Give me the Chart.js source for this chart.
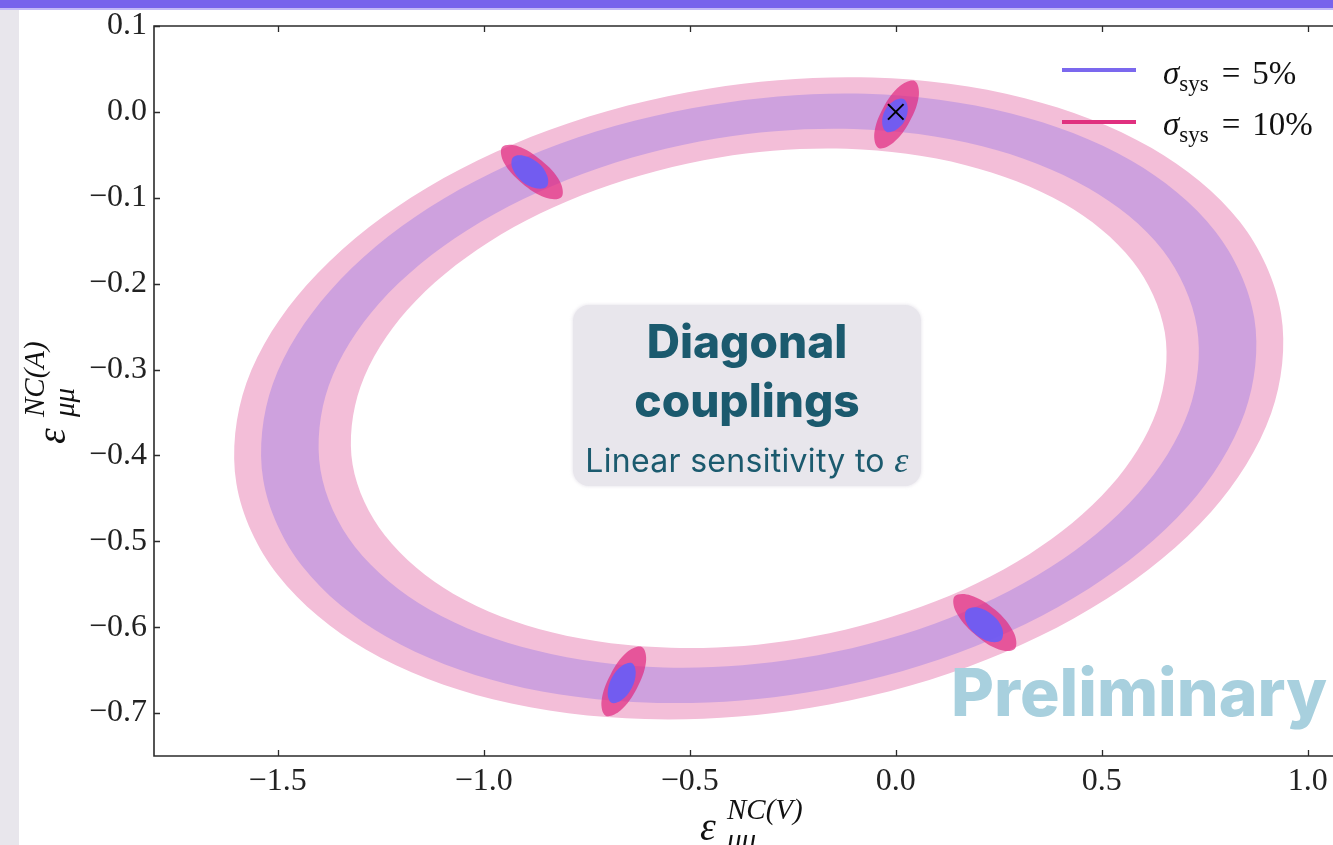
<!DOCTYPE html>
<html lang="en">
<head>
<meta charset="UTF-8">
<title>Diagonal couplings</title>
<script src="https://cdn.jsdelivr.net/npm/chart.js@4"></script>
<style>
    html, body { margin: 0; padding: 0; background: #fff; overflow: hidden; }
    #wrap { position: relative; width: 1333px; height: 845px; }
    #topbar { position: absolute; left: 0; top: 0; width: 1333px; height: 8px; background: #7764ec; border-bottom: 2px solid #c3bbf6; }
    #strip { position: absolute; left: 0; top: 10px; width: 19px; height: 835px; background: #e8e6ec; }
    canvas { position: absolute; left: 0; top: 0; }
    .serif { font-family: 'Liberation Serif', 'DejaVu Serif', serif; color: #111; }
    .legline { position: absolute; left: 1062px; width: 74px; height: 4px; }
    .legtxt { position: absolute; left: 1163px; font-size: 33px; line-height: 33px; white-space: nowrap; }
    .legtxt i { font-style: italic; }
    .legtxt sub { font-size: 23px; vertical-align: -7px; line-height: 0; }
    .legtxt .eq { margin: 0 12px 0 13px; }
    .ttl { position: absolute; width: 120px; height: 60px; }
    .ttl .eps { position: absolute; left: 0; top: 12px; font-size: 40px; line-height: 40px; font-style: italic; }
    .ttl .sup { position: absolute; left: 27px; top: 0; font-size: 29px; line-height: 29px; font-style: italic; white-space: nowrap; }
    .ttl .sub { position: absolute; left: 27px; top: 30px; font-size: 29px; line-height: 29px; font-style: italic; white-space: nowrap; }
    #box { position: absolute; left: 573px; top: 305px; width: 348px; height: 181px; background: #e8e6ec; border-radius: 16px; box-shadow: 0 0 3px 1px rgba(232, 230, 236, 0.8); color: #1b5a6e; text-align: center; font-family: Inter, 'Noto Sans', sans-serif; }
    #box .big { position: absolute; left: 0; width: 348px; top: 7px; font-size: 46px; line-height: 59px; font-weight: 800; }
    #box .small { position: absolute; left: 0; width: 348px; top: 137px; font-size: 32px; line-height: 36px; font-weight: 400; letter-spacing: 0.3px; white-space: nowrap; }
    #box .small i { font-family: 'Liberation Serif', serif; font-size: 36px; }
    #prelim { position: absolute; left: 951px; top: 652px; font-family: Inter, Roboto, sans-serif; font-weight: 800; font-size: 66px; line-height: 80px; color: #a8d0de; white-space: nowrap; }
</style>
</head>
<body>
<div id="wrap">
    <div id="topbar"></div>
    <div id="strip"></div>
    <canvas id="chart" width="1333" height="845"></canvas>

    <div class="legline" style="top:68px; background:#7b68ee;"></div>
    <div class="legtxt serif" style="top:57px;"><i>σ</i><sub>sys</sub><span class="eq">=</span>5%</div>
    <div class="legline" style="top:120px; background:#e0307f;"></div>
    <div class="legtxt serif" style="top:108px;"><i>σ</i><sub>sys</sub><span class="eq">=</span>10%</div>

    <div class="ttl serif" style="left:700px; top:795px;">
        <span class="eps">ε</span><span class="sup">NC(V)</span><span class="sub">μμ</span>
    </div>
    <div class="ttl serif" style="left:20px; top:444px; transform: rotate(-90deg); transform-origin: 0 0;">
        <span class="eps">ε</span><span class="sup">NC(A)</span><span class="sub">μμ</span>
    </div>

    <div id="box">
        <div class="big">Diagonal<br>couplings</div>
        <div class="small">Linear sensitivity to <i>ε</i></div>
    </div>
    <div id="prelim">Preliminary</div>
</div>
<script>
    // axis ticks
    const xTicks = [-1.5, -1.0, -0.5, 0.0, 0.5, 1.0];
    const yTicks = [0.1, 0.0, -0.1, -0.2, -0.3, -0.4, -0.5, -0.6, -0.7];

    // allowed bands (closed contours)
    const band10Outer = [[-0.210,-0.694],[-0.608,-0.707],[-0.978,-0.684],[-1.286,-0.626],[-1.500,-0.539],[-1.600,-0.433],[-1.576,-0.316],[-1.430,-0.202],[-1.177,-0.100],[-0.841,-0.021],[-0.455,0.027],[-0.057,0.040],[0.313,0.016],[0.621,-0.042],[0.835,-0.128],[0.935,-0.235],[0.911,-0.351],[0.765,-0.466],[0.512,-0.567],[0.176,-0.646],[-0.210,-0.694]];
    const band5Outer = [[-0.216,-0.676],[-0.593,-0.688],[-0.945,-0.666],[-1.237,-0.611],[-1.440,-0.529],[-1.535,-0.428],[-1.512,-0.317],[-1.374,-0.209],[-1.134,-0.112],[-0.815,-0.037],[-0.449,0.008],[-0.072,0.021],[0.280,-0.002],[0.572,-0.057],[0.775,-0.139],[0.870,-0.240],[0.847,-0.350],[0.709,-0.459],[0.469,-0.555],[0.150,-0.630],[-0.216,-0.676]];
    const band5Inner = [[-0.230,-0.636],[-0.563,-0.647],[-0.875,-0.627],[-1.133,-0.579],[-1.313,-0.506],[-1.396,-0.417],[-1.376,-0.319],[-1.254,-0.223],[-1.041,-0.138],[-0.759,-0.072],[-0.435,-0.031],[-0.102,-0.020],[0.210,-0.040],[0.468,-0.089],[0.648,-0.161],[0.731,-0.251],[0.711,-0.348],[0.589,-0.444],[0.376,-0.530],[0.094,-0.596],[-0.230,-0.636]];
    const band10Inner = [[-0.237,-0.614],[-0.546,-0.624],[-0.835,-0.606],[-1.074,-0.561],[-1.240,-0.493],[-1.318,-0.411],[-1.299,-0.320],[-1.186,-0.231],[-0.989,-0.152],[-0.728,-0.091],[-0.428,-0.053],[-0.119,-0.043],[0.170,-0.062],[0.409,-0.107],[0.575,-0.174],[0.653,-0.257],[0.634,-0.347],[0.521,-0.436],[0.324,-0.515],[0.063,-0.576],[-0.237,-0.614]];

    // small islands with linear sensitivity
    const island10A = [[0.046,0.036],[0.056,0.019],[0.034,-0.011],[-0.006,-0.036],[-0.042,-0.042],[-0.052,-0.025],[-0.030,0.005],[0.010,0.030],[0.046,0.036]];
    const island5A = [[0.019,0.015],[0.029,0.005],[0.022,-0.010],[0.000,-0.021],[-0.023,-0.023],[-0.033,-0.013],[-0.026,0.002],[-0.004,0.013],[0.019,0.015]];
    const island10B = [[-0.811,-0.099],[-0.849,-0.100],[-0.907,-0.083],[-0.951,-0.059],[-0.955,-0.041],[-0.917,-0.040],[-0.859,-0.057],[-0.815,-0.081],[-0.811,-0.099]];
    const island5B = [[-0.847,-0.087],[-0.873,-0.089],[-0.907,-0.081],[-0.930,-0.066],[-0.929,-0.053],[-0.903,-0.051],[-0.869,-0.059],[-0.846,-0.074],[-0.847,-0.087]];
    const island10C = [[-0.616,-0.623],[-0.606,-0.640],[-0.628,-0.671],[-0.668,-0.697],[-0.704,-0.703],[-0.714,-0.686],[-0.692,-0.655],[-0.652,-0.629],[-0.616,-0.623]];
    const island5C = [[-0.640,-0.642],[-0.631,-0.653],[-0.641,-0.671],[-0.666,-0.685],[-0.690,-0.688],[-0.699,-0.677],[-0.689,-0.659],[-0.664,-0.645],[-0.640,-0.642]];
    const island10D = [[0.289,-0.625],[0.250,-0.626],[0.191,-0.608],[0.146,-0.582],[0.143,-0.564],[0.182,-0.563],[0.242,-0.580],[0.286,-0.606],[0.289,-0.625]];
    const island5D = [[0.256,-0.615],[0.229,-0.617],[0.193,-0.608],[0.170,-0.593],[0.172,-0.580],[0.199,-0.577],[0.235,-0.586],[0.258,-0.601],[0.256,-0.615]];

    const truePoint = [[0, 0]];

    const pink = '#f3bed8';
    const purple = '#cea1de';
    const pinkIsland = 'rgba(224, 40, 128, 0.7)';
    const blueIsland = 'rgba(95, 95, 255, 0.85)';

    const fmt = v => (v < 0 ? '\u2212' : '') + Math.abs(v).toFixed(1);

    // closed contour filled as a shape; the path runs two points past its start
    // so the spline has no corner where it closes
    function shape(pts, color, order, tension) {
        const path = pts.concat(pts.slice(1, 3));
        return {
            type: 'line',
            data: path.map(p => ({x: p[0], y: p[1]})),
            backgroundColor: color,
            borderColor: 'rgba(0,0,0,0)',
            borderWidth: 0,
            pointRadius: 0,
            fill: 'shape',
            tension: tension,
            order: order
        };
    }

    const datasets = [
        shape(band10Outer, pink, 20, 0.335),
        shape(band5Outer, purple, 19, 0.335),
        shape(band5Inner, pink, 18, 0.335),
        shape(band10Inner, '#ffffff', 17, 0.335),
        shape(island10A, pinkIsland, 10, 0.37),
        shape(island10B, pinkIsland, 10, 0.37),
        shape(island10C, pinkIsland, 10, 0.37),
        shape(island10D, pinkIsland, 10, 0.37),
        shape(island5A, blueIsland, 9, 0.37),
        shape(island5B, blueIsland, 9, 0.37),
        shape(island5C, blueIsland, 9, 0.37),
        shape(island5D, blueIsland, 9, 0.37),
        {
            type: 'scatter',
            data: truePoint.map(p => ({x: p[0], y: p[1]})),
            pointStyle: 'crossRot',
            pointRadius: 11,
            borderColor: '#000',
            borderWidth: 2,
            order: 1
        }
    ];

    // spines and inward tick marks, matplotlib style
    const frame = {
        id: 'frame',
        afterDraw(chart) {
            const {ctx, chartArea: a, scales: {x, y}} = chart;
            ctx.save();
            ctx.strokeStyle = '#2b2b2b';
            ctx.lineWidth = 1.6;
            ctx.beginPath();
            ctx.moveTo(a.right + 2, a.top);
            ctx.lineTo(a.left, a.top);
            ctx.lineTo(a.left, a.bottom);
            ctx.lineTo(a.right + 2, a.bottom);
            ctx.stroke();
            ctx.lineWidth = 1.3;
            ctx.beginPath();
            xTicks.forEach(v => {
                const px = Math.round(x.getPixelForValue(v)) + 0.5;
                ctx.moveTo(px, a.bottom); ctx.lineTo(px, a.bottom - 6);
                ctx.moveTo(px, a.top); ctx.lineTo(px, a.top + 6);
            });
            yTicks.forEach(v => {
                const py = Math.round(y.getPixelForValue(v)) + 0.5;
                ctx.moveTo(a.left, py); ctx.lineTo(a.left + 6, py);
            });
            ctx.stroke();
            ctx.restore();
        }
    };

    const tickFont = {family: "'Liberation Serif', 'DejaVu Serif', serif", size: 32};

    new Chart(document.getElementById('chart'), {
        type: 'line',
        data: {datasets: datasets},
        options: {
            responsive: false,
            animation: false,
            layout: {autoPadding: false, padding: {top: 26, right: 0, bottom: 0, left: 0}},
            plugins: {legend: {display: false}, tooltip: {enabled: false}},
            scales: {
                x: {
                    type: 'linear',
                    min: -1.8,
                    max: 1.061,
                    afterBuildTicks: s => { s.ticks = xTicks.map(v => ({value: v})); },
                    afterFit: s => { s.height = 89; s.paddingLeft = 0; s.paddingRight = 0; },
                    grid: {display: false, drawTicks: false},
                    border: {display: false},
                    ticks: {font: tickFont, color: '#222', padding: 6, maxRotation: 0, autoSkip: false, callback: v => fmt(v)}
                },
                y: {
                    type: 'linear',
                    min: -0.75,
                    max: 0.1,
                    afterBuildTicks: s => { s.ticks = yTicks.map(v => ({value: v})); },
                    afterFit: s => { s.width = 154; s.paddingTop = 0; s.paddingBottom = 0; },
                    grid: {display: false, drawTicks: false},
                    border: {display: false},
                    ticks: {font: tickFont, color: '#222', padding: 7, autoSkip: false, callback: v => fmt(v)}
                }
            }
        },
        plugins: [frame]
    });
</script>
</body>
</html>
